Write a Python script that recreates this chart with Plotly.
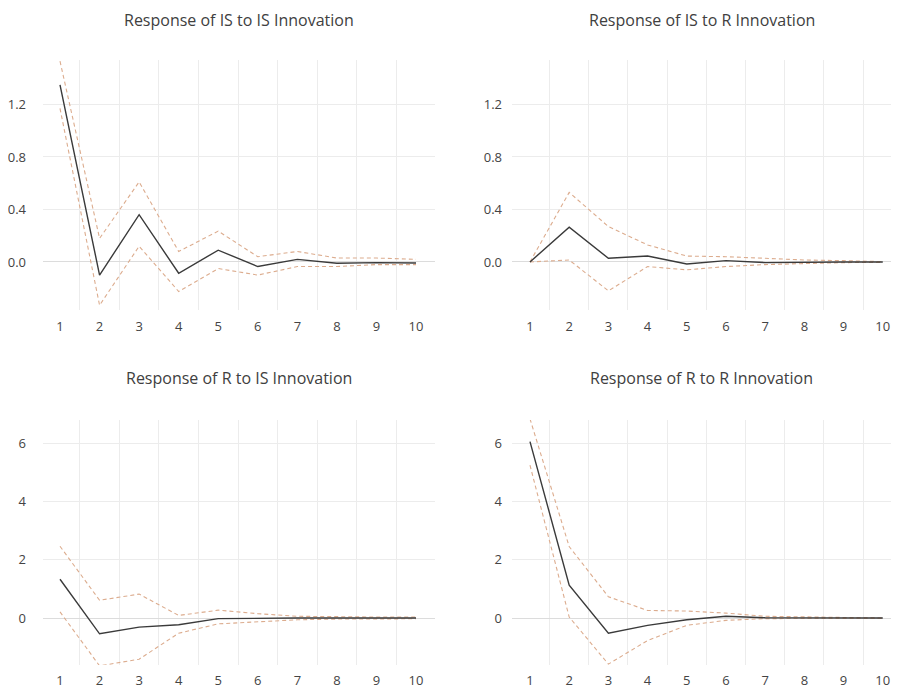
import plotly.graph_objects as go

periods = [1, 2, 3, 4, 5, 6, 7, 8, 9, 10]

titles = [
    "Response of IS to IS Innovation",
    "Response of IS to R Innovation",
    "Response of R to IS Innovation",
    "Response of R to R Innovation",
]

is_is_mid = [1.35, -0.10, 0.36, -0.086, 0.09, -0.035, 0.02, -0.01, -0.005, -0.008]
is_is_up = [1.53, 0.18, 0.61, 0.08, 0.235, 0.04, 0.08, 0.03, 0.03, 0.02]
is_is_lo = [1.17, -0.33, 0.12, -0.225, -0.05, -0.10, -0.035, -0.035, -0.02, -0.02]

is_r_mid = [0.0, 0.265, 0.028, 0.045, -0.015, 0.01, -0.005, 0.0, 0.0, 0.0]
is_r_up = [0.0, 0.53, 0.27, 0.13, 0.045, 0.04, 0.028, 0.015, 0.01, 0.003]
is_r_lo = [0.0, 0.015, -0.22, -0.035, -0.06, -0.035, -0.02, -0.01, -0.005, -0.003]

r_is_mid = [1.33, -0.54, -0.31, -0.23, -0.02, 0.0, 0.0, 0.0, 0.0, 0.0]
r_is_up = [2.46, 0.61, 0.82, 0.09, 0.27, 0.15, 0.06, 0.035, 0.035, 0.035]
r_is_lo = [0.21, -1.64, -1.41, -0.52, -0.20, -0.14, -0.06, -0.035, -0.025, -0.025]

r_r_mid = [6.05, 1.13, -0.52, -0.25, -0.06, 0.06, 0.01, 0.0, 0.0, 0.0]
r_r_up = [6.83, 2.45, 0.73, 0.26, 0.24, 0.17, 0.06, 0.035, 0.02, 0.0]
r_r_lo = [5.24, 0.035, -1.58, -0.77, -0.25, -0.08, -0.02, -0.01, -0.01, -0.01]

panels = [
    (is_is_mid, is_is_up, is_is_lo),
    (is_r_mid, is_r_up, is_r_lo),
    (r_is_mid, r_is_up, r_is_lo),
    (r_r_mid, r_r_up, r_r_lo),
]

top_ticks = [0.0, 0.4, 0.8, 1.2]
top_ticktext = ["0.0", "0.4", "0.8", "1.2"]
bot_ticks = [0, 2, 4, 6]
bot_ticktext = ["0", "2", "4", "6"]

# page body has an 8px margin on every side; size the figure so the page does not overflow
OFF = 8
W, H = 899 - 2 * OFF, 700 - 2 * OFF
# pixel boxes in window coordinates: (x0, x1, ytop, ybottom)
boxes = [(43, 435, 60, 310), (512, 891, 60, 310), (43, 435, 420, 665), (512, 891, 420, 665)]
xranges = [[0.57, 10.48], [0.541, 10.21], [0.57, 10.48], [0.541, 10.21]]
yranges = [[-0.366, 1.539], [-0.366, 1.539], [-1.61, 6.79], [-1.61, 6.79]]
title_y = [20, 20, 378, 378]

BAND = "#dcac8e"
MAIN = "#3a3a3a"
GRID = "#ececec"
FONT = "Open Sans, Liberation Sans, sans-serif"

fig = go.Figure()
layout = dict(
    width=W, height=H,
    margin=dict(l=0, r=0, t=0, b=0, autoexpand=False),
    paper_bgcolor="white", plot_bgcolor="white",
    showlegend=False,
    font=dict(family=FONT, size=13, color="#444444"),
)
annotations = []
for i, (mid, up, lo) in enumerate(panels):
    n = i + 1
    xa = "x" if n == 1 else f"x{n}"
    ya = "y" if n == 1 else f"y{n}"
    for series, color, width, dash in [(up, BAND, 1.1, "4px,3px"), (lo, BAND, 1.1, "4px,3px"), (mid, MAIN, 1.4, "solid")]:
        fig.add_trace(go.Scatter(x=periods, y=series, mode="lines", xaxis=xa, yaxis=ya,
                                 line=dict(color=color, width=width, dash=dash), hoverinfo="skip"))
    x0, x1, yt, yb = [v - OFF for v in boxes[i]]
    left = i in (0, 2)
    layout["xaxis" if n == 1 else f"xaxis{n}"] = dict(
        domain=[x0 / W, min(x1 / W, 1.0)], range=xranges[i], anchor=ya, automargin=False,
        tickvals=periods, ticktext=[str(p) for p in periods],
        showgrid=False, zeroline=False, showline=False, ticks="",
        ticklabelstandoff=7 if i < 2 else 6,
        tickfont=dict(size=13, color="#444444"),
        minor=dict(tickvals=[p + 0.5 for p in periods[:-1]], showgrid=True, gridcolor=GRID, gridwidth=1, ticks=""),
    )
    layout["yaxis" if n == 1 else f"yaxis{n}"] = dict(
        domain=[1 - yb / H, 1 - yt / H], range=yranges[i], anchor=xa, automargin=False,
        tickvals=top_ticks if i < 2 else bot_ticks,
        ticktext=top_ticktext if i < 2 else bot_ticktext,
        showgrid=True, gridcolor=GRID, gridwidth=1,
        zeroline=True, zerolinecolor="#dcdcdc", zerolinewidth=1,
        showline=False, ticks="",
        ticklabelstandoff=16 if left else 9,
        tickfont=dict(size=13, color="#444444"),
    )
    annotations.append(dict(text=titles[i], x=(x0 + x1) / 2 / W, y=1 - (title_y[i] - OFF) / H,
                            xref="paper", yref="paper", showarrow=False,
                            xanchor="center", yanchor="middle",
                            font=dict(size=16, color="#404040", family=FONT)))
layout["annotations"] = annotations
fig.update_layout(**layout)
fig.write_html("out.html")
